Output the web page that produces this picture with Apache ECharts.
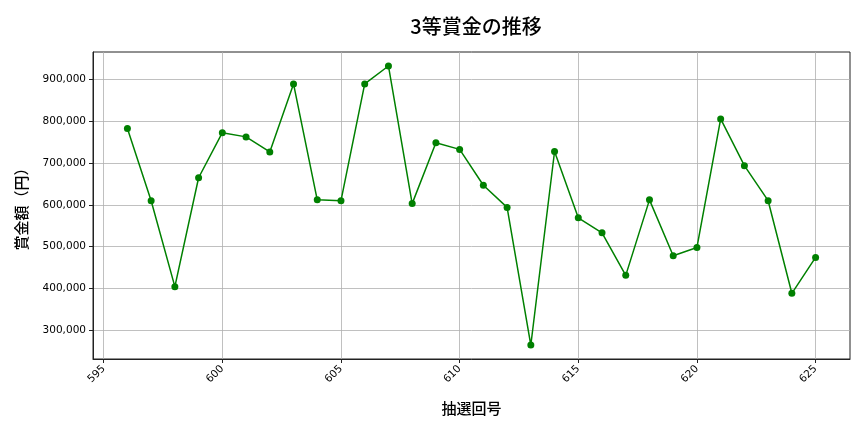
<!DOCTYPE html>
<html>
<head>
<meta charset="utf-8">
<script src="https://cdn.jsdelivr.net/npm/echarts@6/dist/echarts.min.js"></script>
<style>html,body{margin:0;padding:0;background:#fff;}#c{width:864px;height:432px;}</style>
</head>
<body>
<div id="c"></div>
<script>
const draws = [596,597,598,599,600,601,602,603,604,605,606,607,608,609,610,611,612,613,614,615,616,617,618,619,620,621,622,623,624,625];
const prizes = [783000,610000,404000,665000,773000,763000,727000,890000,612000,610000,890000,933000,603000,749000,733000,647000,594000,264000,728000,569000,533000,431000,612000,478000,498000,806000,694000,610000,388000,474000];
const xTicks = [595,600,605,610,615,620,625];
const yTicks = [300000,400000,500000,600000,700000,800000,900000];

const chart = echarts.init(document.getElementById('c'), null, {renderer:'canvas'});
chart.setOption({
  animation:false,
  backgroundColor:'#fff',
  title:{text:'3等賞金の推移',left:471,top:11,textAlign:'center',
    textStyle:{fontFamily:'Noto Sans CJK JP',fontSize:20,fontWeight:500,color:'#000'}},
  grid:{left:93,right:14,top:52,bottom:73,show:true,borderColor:'#222',borderWidth:1},
  xAxis:{type:'value',min:594.55,max:626.45,
    name:'抽選回号',nameLocation:'middle',nameGap:42,
    nameTextStyle:{fontFamily:'Noto Sans CJK JP',fontSize:15,fontWeight:500,color:'#000'},
    axisLine:{show:true,lineStyle:{color:'#222'}},
    axisTick:{show:true,customValues:xTicks,length:4,lineStyle:{color:'#222'}},
    axisLabel:{customValues:xTicks,rotate:45,fontFamily:'DejaVu Sans',fontSize:10.5,color:'#000',margin:8},
    splitLine:{show:true,lineStyle:{color:'#b0b0b0',width:0.8}}},
  yAxis:{type:'value',min:230500,max:966500,
    name:'賞金額（円）',nameLocation:'middle',nameGap:64,
    nameTextStyle:{fontFamily:'Noto Sans CJK JP',fontSize:15,fontWeight:500,color:'#000'},
    axisLine:{show:true,lineStyle:{color:'#222'}},
    axisTick:{show:true,customValues:yTicks,length:4,lineStyle:{color:'#222'}},
    axisLabel:{customValues:yTicks,fontFamily:'DejaVu Sans',fontSize:10.5,color:'#000',margin:7,
      formatter:v=>v.toLocaleString('en-US')},
    splitLine:{show:true,lineStyle:{color:'#b0b0b0',width:0.8}}},
  series:[{type:'line',data:draws.map((d,i)=>[d,prizes[i]]),
    symbol:'circle',symbolSize:7,
    lineStyle:{color:'#008000',width:1.5},
    itemStyle:{color:'#008000'}}]
});
</script>
</body>
</html>
